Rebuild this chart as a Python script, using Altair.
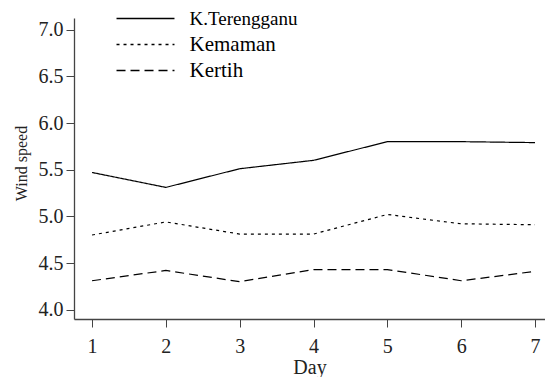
import altair as alt
import pandas as pd

days = [1, 2, 3, 4, 5, 6, 7]
series_names = ["K.Terengganu", "Kemaman", "Kertih"]
terengganu = [5.47, 5.31, 5.51, 5.60, 5.80, 5.80, 5.79]
kemaman = [4.80, 4.94, 4.81, 4.81, 5.02, 4.92, 4.91]
kertih = [4.31, 4.42, 4.30, 4.43, 4.43, 4.31, 4.41]

rows = []
for name, vals in zip(series_names, [terengganu, kemaman, kertih]):
    for d, v in zip(days, vals):
        rows.append({"Day": d, "Wind speed": v, "Station": name})
df = pd.DataFrame(rows)

FONT = "'Liberation Serif', 'Times New Roman', serif"

chart = alt.Chart(df).mark_line(color="black", strokeWidth=1.2).encode(
    x=alt.X("Day:Q", scale=alt.Scale(domain=[0.756, 7.135], nice=False, zero=False),
            axis=alt.Axis(values=days, format="d", title="Day")),
    y=alt.Y("Wind speed:Q", scale=alt.Scale(domain=[3.9, 7.125], nice=False, zero=False),
            axis=alt.Axis(values=[4.0, 4.5, 5.0, 5.5, 6.0, 6.5, 7.0], format=".1f", title="Wind speed")),
    strokeDash=alt.StrokeDash("Station:N",
        scale=alt.Scale(domain=series_names, range=[[1, 0], [3, 4], [9, 5]]),
        legend=alt.Legend(title=None, orient="none", legendX=61, legendY=-10,
                          symbolType="M-4,0H4", symbolSize=210, symbolStrokeWidth=1.3,
                          symbolStrokeColor="black", symbolFillColor="transparent",
                          labelFont=FONT,
                          labelFontSize=alt.ExprRef(expr="datum.value == 'K.Terengganu' ? 19 : 21"),
                          labelColor="black", rowPadding=4, labelOffset=33.5)),
    detail="Station:N",
).properties(
    width=471, height=301,
    autosize=alt.AutoSizeParams(type="none"),
    padding={"left": 66, "top": 10, "right": 0, "bottom": 58},
).configure(font=FONT).configure_view(stroke=None).configure_axis(
    grid=False, domainColor="#444", tickColor="#444", tickSize=8, domainWidth=1.3,
    labelFont=FONT, titleFont=FONT, labelFontSize=20, titleFontSize=20,
    labelColor="#222", titleColor="#222", titleFontWeight="normal",
).configure_axisX(labelPadding=9, titleBaseline="alphabetic", titleY=54, labelAngle=0
).configure_axisY(labelPadding=3, titlePadding=9, titleFontSize=16, titleY=145
).configure_legend(labelFont=FONT)

chart.save("out.html", embed_options={"renderer": "svg", "actions": False})
